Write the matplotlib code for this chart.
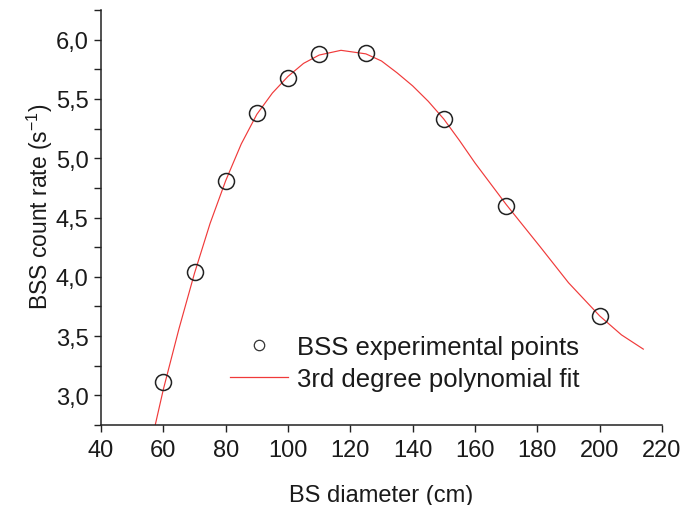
import matplotlib
matplotlib.use("Agg")
import matplotlib.pyplot as plt
from matplotlib.lines import Line2D

# Experimental points
diameter_cm = [60, 70, 80, 90, 100, 110, 125, 150, 170, 200]
count_rate = [3.11, 4.04, 4.81, 5.38, 5.68, 5.88, 5.89, 5.33, 4.60, 3.67]

# 3rd degree polynomial fit curve
fit_x = [57.4, 60, 65, 70, 75, 80, 85, 90, 95, 100, 105, 110, 117, 125,
         130, 135, 140, 145, 150, 155, 160, 170, 181, 190, 200, 207, 214]
fit_y = [2.75, 3.05, 3.56, 4.03, 4.45, 4.81, 5.12, 5.37, 5.55, 5.69, 5.80,
         5.87, 5.91, 5.88, 5.82, 5.72, 5.61, 5.48, 5.33, 5.15, 4.96, 4.61,
         4.25, 3.95, 3.67, 3.51, 3.39]

x_ticks = [40, 60, 80, 100, 120, 140, 160, 180, 200, 220]
y_ticks = [3.0, 3.5, 4.0, 4.5, 5.0, 5.5, 6.0]
y_ticklabels = ["3,0", "3,5", "4,0", "4,5", "5,0", "5,5", "6,0"]
y_minor = [2.75, 3.25, 3.75, 4.25, 4.75, 5.25, 5.75, 6.25]

plt.rcParams['font.family'] = ['Liberation Sans', 'DejaVu Sans']
plt.rcParams['mathtext.fontset'] = 'custom'
plt.rcParams['mathtext.rm'] = 'Liberation Sans'
plt.rcParams['mathtext.it'] = 'Liberation Sans:italic'
plt.rcParams['mathtext.bf'] = 'Liberation Sans:bold'
plt.rcParams['axes.unicode_minus'] = False

W, H = 687, 506
fig = plt.figure(figsize=(W / 100, H / 100), dpi=100)
ax = fig.add_axes([101 / W, 1 - 426 / H, (662 - 101) / W, (426 - 11) / H])

ax.plot(fit_x, fit_y, color='#f03a3a', lw=0.85, zorder=2)
ax.plot(diameter_cm, count_rate, linestyle='none', marker='o', markersize=11.5,
        markerfacecolor='none', markeredgecolor='#222222', markeredgewidth=1.1,
        zorder=3)

ax.set_xlim(40, 220)
ax.set_ylim(2.75, 6.25)
ax.set_xticks(x_ticks)
ax.set_xticklabels([str(v) for v in x_ticks])
ax.set_yticks(y_ticks)
ax.set_yticklabels(y_ticklabels)
ax.set_yticks(y_minor, minor=True)

for s in ['top', 'right']:
    ax.spines[s].set_visible(False)
for s in ['left', 'bottom']:
    ax.spines[s].set_linewidth(1.1)
    ax.spines[s].set_color('#222222')

ax.tick_params(axis='both', which='major', direction='out', length=5, width=1.0,
               colors='#222222', labelsize=17, labelcolor='#1a1a1a', pad=4)
ax.tick_params(axis='x', which='major', pad=5)
ax.tick_params(axis='y', which='minor', direction='out', length=5, width=1.0,
               colors='#222222')

ax.set_xlabel('BS diameter (cm)', fontsize=17, color='#1a1a1a', labelpad=17)
ax.set_ylabel('BSS count rate (s$^{\\mathrm{-1}}$)', fontsize=16.5, color='#1a1a1a')
ax.yaxis.set_label_coords(-0.082, 0.528)

handles = [
    Line2D([], [], linestyle='none', marker='o', markersize=7.5,
           markerfacecolor='none', markeredgecolor='#333333', markeredgewidth=0.9),
    Line2D([], [], color='#f03a3a', lw=0.9),
]
labels = ['BSS experimental points', '3rd degree polynomial fit']
fig.legend(handles, labels, loc='upper left', bbox_to_anchor=(230 / W, 1 - 336 / H),
           frameon=False, fontsize=18.5, handlelength=2.25, handletextpad=0.35,
           labelspacing=0.3, borderpad=0, borderaxespad=0, labelcolor='#1a1a1a')

fig.savefig('out.png', dpi=100)
